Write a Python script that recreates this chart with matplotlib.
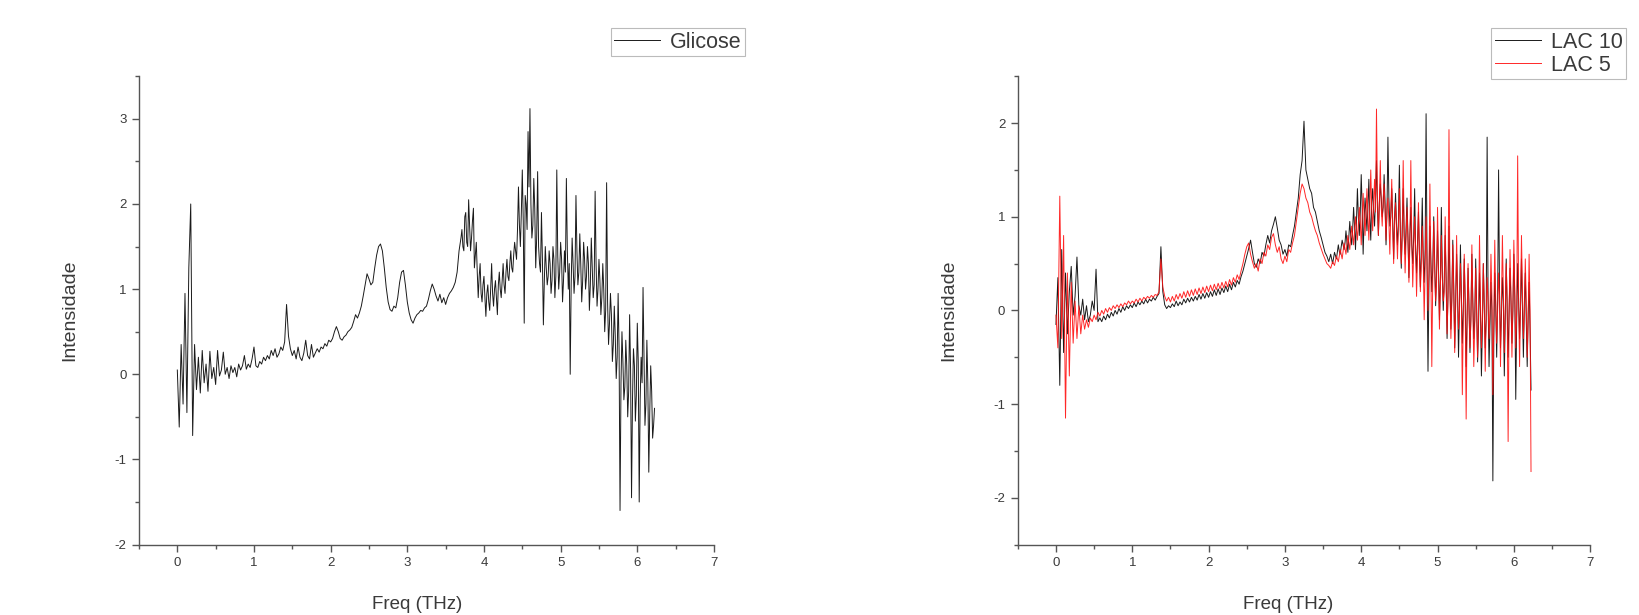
import numpy as np
import matplotlib
matplotlib.use('Agg')
import matplotlib.pyplot as plt
from matplotlib.ticker import MultipleLocator

plt.rcParams.update({'font.family': ['Liberation Sans', 'DejaVu Sans'],
                     'axes.unicode_minus': False})

# Frequency grid of the spectra (THz), 0.025 THz steps
freq = np.round(np.arange(250) * 0.025, 3)
# extra samples in the noisy high-frequency part (3.7125 ... 6.2125 THz)
freq_fine = np.round(3.7125 + np.arange(101) * 0.025, 4)

# Glicose spectrum (20 values per 0.5 THz)
glicose = [
    0.05, -0.62, 0.35, -0.35, 0.95, -0.45, 1.25, 2.0, -0.72, 0.35,
    -0.18, 0.2, -0.22, 0.28, -0.1, 0.12, -0.2, 0.27, -0.05, 0.08,
    -0.12, 0.28, -0.02, 0.05, 0.26, 0.0, 0.08, -0.05, 0.1, 0.02,
    0.08, -0.03, 0.12, 0.05, 0.1, 0.22, 0.06, 0.12, 0.08, 0.18,
    0.32, 0.1, 0.08, 0.15, 0.12, 0.2, 0.16, 0.22, 0.18, 0.28,
    0.22, 0.3, 0.2, 0.24, 0.32, 0.28, 0.38, 0.82, 0.45, 0.3,
    0.22, 0.28, 0.18, 0.32, 0.2, 0.16, 0.25, 0.4, 0.22, 0.18,
    0.35, 0.2, 0.25, 0.3, 0.26, 0.32, 0.3, 0.36, 0.33, 0.4,
    0.38, 0.42, 0.5, 0.56, 0.5, 0.42, 0.4, 0.44, 0.46, 0.5,
    0.52, 0.55, 0.62, 0.7, 0.66, 0.72, 0.8, 0.92, 1.05, 1.18,
    1.12, 1.05, 1.08, 1.25, 1.4, 1.5, 1.53, 1.45, 1.25, 1.02,
    0.85, 0.76, 0.74, 0.8, 0.78, 0.9, 1.08, 1.2, 1.22, 1.05,
    0.85, 0.72, 0.64, 0.6, 0.66, 0.7, 0.72, 0.75, 0.74, 0.78,
    0.8, 0.88, 0.98, 1.06, 1.0, 0.92, 0.86, 0.94, 0.84, 0.9,
    0.82, 0.9, 0.95, 0.98, 1.02, 1.08, 1.2, 1.45, 1.6, 1.5,
    1.85, 1.55, 2.05, 1.45, 1.8, 1.25, 1.55, 0.9, 1.3, 0.85,
    1.15, 0.68, 1.05, 0.75, 1.3, 0.8, 1.1, 0.7, 1.2, 0.9,
    1.3, 0.95, 1.35, 1.1, 1.45, 1.2, 1.55, 1.35, 2.2, 1.5,
    2.4, 0.6, 2.0, 2.85, 3.12, 1.6, 2.3, 1.25, 2.38, 1.3,
    1.9, 0.58, 1.5, 1.05, 1.45, 0.95, 1.5, 0.9, 2.4, 1.0,
    1.55, 0.85, 1.45, 2.3, 1.0, 0.0, 1.6, 0.95, 2.1, 1.05,
    1.65, 0.85, 1.55, 1.0, 1.5, 0.75, 1.6, 0.9, 2.15, 0.8,
    1.35, 0.7, 1.3, 0.5, 2.25, 0.35, 0.95, 0.15, 0.8, -0.05,
    0.95, -1.6, 0.5, -0.3, 0.4, -0.5, 0.7, -1.45, 0.3, -0.55,
    0.6, -1.5, 0.2, 1.02, -0.6, 0.4, -1.15, 0.1, -0.75, -0.4,
]
glicose_fine = [
    1.7, 1.45, 1.9, 1.5, 1.75, 1.6, 1.95, 1.4, 1.2, 1.15,
    0.95, 1.05, 0.9, 0.95, 0.85, 1.0, 0.95, 1.0, 0.9, 1.05,
    1.0, 1.1, 1.05, 1.2, 1.15, 1.3, 1.25, 1.4, 1.45, 1.7,
    1.75, 1.9, 1.8, 2.1, 1.7, 2.2, 2.0, 1.75, 1.95, 1.6,
    1.5, 1.2, 1.35, 1.1, 1.25, 1.15, 1.3, 1.1, 1.35, 1.15,
    1.4, 1.2, 1.35, 1.1, 1.2, 1.45, 1.3, 1.05, 1.3, 1.15,
    1.45, 1.2, 1.3, 1.1, 1.35, 1.15, 1.3, 1.05, 1.25, 1.05,
    1.3, 1.0, 1.1, 0.9, 1.0, 0.75, 0.85, 0.6, 0.7, 0.35,
    0.45, 0.2, 0.3, -0.1, 0.15, -0.15, 0.1, -0.2, 0.05, -0.3,
    0.1, -0.25, 0.15, -0.3, -0.1, 0.2, -0.35, -0.1, -0.45, -0.2,
    -0.6,
]

# LAC 10 spectrum (black, right panel)
lac10 = [
    -0.15, 0.35, -0.8, 0.65, -0.45, 0.4, -0.25, 0.2, 0.47, -0.05,
    0.15, 0.57, 0.05, -0.05, 0.12, -0.1, 0.05, -0.12, -0.05, 0.1,
    0.0, 0.44, -0.12, -0.08, -0.12, -0.06, -0.1, -0.04, -0.08, -0.02,
    -0.06, 0.0, -0.04, 0.02, -0.02, 0.04, 0.0, 0.05, 0.02, 0.06,
    0.03, 0.08, 0.04, 0.09, 0.06, 0.1, 0.07, 0.12, 0.08, 0.12,
    0.1, 0.14, 0.11, 0.15, 0.18, 0.68, 0.2, 0.06, 0.02, 0.05,
    0.03, 0.07, 0.04, 0.1, 0.05, 0.09, 0.06, 0.12, 0.08, 0.13,
    0.09, 0.14, 0.1, 0.15, 0.11, 0.17, 0.12, 0.18, 0.13, 0.19,
    0.14, 0.2, 0.15, 0.22, 0.16, 0.23, 0.17, 0.24, 0.19, 0.26,
    0.2, 0.28, 0.22, 0.3, 0.25, 0.32, 0.28, 0.36, 0.42, 0.5,
    0.58, 0.66, 0.75, 0.62, 0.5, 0.46, 0.55, 0.5, 0.62, 0.58,
    0.7, 0.8, 0.72, 0.85, 0.92, 1.0, 0.88, 0.75, 0.7, 0.6,
    0.65, 0.58, 0.7, 0.68, 0.8, 0.9, 1.05, 1.2, 1.45, 1.6,
    2.02, 1.5, 1.4, 1.3, 1.25, 1.1, 1.05, 0.95, 0.85, 0.78,
    0.7, 0.62, 0.58, 0.52, 0.6, 0.5, 0.62, 0.55, 0.7, 0.6,
    0.75, 0.65, 0.85, 0.62, 0.95, 0.7, 1.1, 0.65, 1.3, 0.8,
    1.45, 0.6, 1.2, 0.85, 1.4, 0.75, 1.3, 0.9, 1.6, 0.8,
    1.35, 1.0, 1.45, 0.7, 1.85, 0.9, 1.3, 0.55, 1.25, 0.7,
    1.55, 0.45, 1.3, 0.6, 1.2, 0.35, 1.1, 0.5, 1.3, 0.4,
    1.05, 0.25, 1.2, 0.3, 2.1, -0.65, 0.9, 0.2, 1.0, 0.05,
    0.85, -0.1, 1.1, 0.0, 0.8, -0.3, 0.9, -0.2, 0.75, -0.4,
    0.6, -0.5, 0.7, -0.35, 0.55, -0.6, 0.45, -0.45, 0.6, -0.3,
    0.55, -0.55, 0.4, -0.7, 0.5, -0.4, 1.85, -0.6, 0.3, -1.82,
    0.4, -0.5, 1.5, -0.4, 0.35, -0.7, 0.55, -0.5, 0.45, -0.35,
    0.6, -0.95, 0.5, -0.3, 0.55, -0.5, 0.4, -0.6, 0.3, -0.85,
]
lac10_fine = [
    0.63, 0.68, 0.7, 0.72, 0.74, 0.78, 0.8, 0.86, 0.9, 0.95,
    1.0, 1.05, 1.1, 0.95, 1.05, 1.1, 1.0, 1.15, 1.05, 1.2,
    1.1, 1.15, 1.2, 1.1, 1.15, 1.05, 1.2, 1.0, 0.95, 1.0,
    0.9, 0.95, 0.85, 0.9, 0.8, 0.88, 0.75, 0.8, 0.7, 0.78,
    0.65, 0.72, 0.6, 0.68, 0.55, 0.65, 0.5, 0.3, 0.55, 0.45,
    0.5, 0.4, 0.45, 0.35, 0.4, 0.3, 0.35, 0.2, 0.3, 0.15,
    0.25, 0.1, 0.2, 0.05, 0.15, 0.0, 0.1, -0.1, 0.05, -0.05,
    0.1, -0.1, 0.05, -0.15, 0.0, -0.2, 0.05, -0.1, 0.1, -0.15,
    0.0, -0.3, 0.05, 0.1, 0.2, -0.05, 0.1, -0.1, 0.05, 0.0,
    0.1, 0.0, 0.15, -0.1, 0.1, 0.05, 0.0, 0.05, -0.1, -0.05,
    -0.2,
]

# LAC 5 spectrum (red, right panel)
lac5 = [
    -0.05, -0.4, 1.22, -0.3, 0.8, -1.15, 0.4, -0.7, 0.3, -0.35,
    0.1, -0.3, 0.05, -0.25, -0.05, -0.2, -0.1, -0.18, -0.08, -0.12,
    -0.05, -0.1, -0.02, -0.06, 0.0, -0.04, 0.02, -0.02, 0.03, 0.0,
    0.05, 0.02, 0.06, 0.03, 0.07, 0.04, 0.08, 0.06, 0.1, 0.07,
    0.1, 0.08, 0.12, 0.09, 0.13, 0.1, 0.14, 0.12, 0.15, 0.13,
    0.16, 0.14, 0.17, 0.16, 0.2, 0.55, 0.25, 0.15, 0.1, 0.14,
    0.09, 0.15, 0.1, 0.17, 0.12, 0.18, 0.13, 0.2, 0.14, 0.21,
    0.15, 0.22, 0.16, 0.23, 0.17, 0.24, 0.18, 0.25, 0.19, 0.26,
    0.2, 0.27, 0.21, 0.28, 0.22, 0.29, 0.23, 0.3, 0.24, 0.31,
    0.25, 0.33, 0.27, 0.35, 0.3, 0.38, 0.33, 0.42, 0.5, 0.6,
    0.68, 0.72, 0.6, 0.52, 0.45, 0.5, 0.42, 0.55, 0.5, 0.62,
    0.58, 0.7, 0.65, 0.78, 0.82, 0.7, 0.62, 0.68, 0.55, 0.5,
    0.58, 0.52, 0.65, 0.62, 0.72, 0.8, 0.95, 1.1, 1.25, 1.35,
    1.3, 1.2, 1.15, 1.05, 1.0, 0.92, 0.85, 0.8, 0.72, 0.66,
    0.6, 0.55, 0.5, 0.48, 0.45, 0.52, 0.48, 0.58, 0.52, 0.65,
    0.55, 0.72, 0.6, 0.8, 0.65, 0.9, 0.7, 1.0, 0.75, 1.1,
    0.7, 1.25, 0.8, 1.3, 0.75, 1.5, 0.85, 1.4, 2.15, 0.8,
    1.6, 0.9, 1.35, 0.75, 1.2, 0.6, 1.4, 0.5, 1.15, 0.55,
    1.3, 0.5, 1.6, 0.4, 1.1, 0.3, 1.6, 0.25, 1.0, 0.15,
    1.15, 0.2, 0.9, -0.1, 1.0, 0.0, 1.35, -0.6, 0.95, 0.1,
    1.1, -0.2, 0.8, 0.1, 1.0, -0.25, 1.93, -0.3, 0.7, -0.45,
    0.8, -0.2, 0.5, -0.9, 0.6, -1.16, 0.5, -0.4, 0.7, -0.6,
    0.45, -0.5, 0.8, -0.4, 0.5, -0.65, 0.35, -0.3, 0.6, -0.9,
    0.75, -0.35, 0.4, -0.6, 0.8, -0.45, 0.5, -1.4, 0.65, -0.5,
    0.75, -0.4, 1.65, -0.6, 0.8, -0.3, 0.55, -0.5, 0.6, -1.72,
]
lac5_fine = [
    0.58, 0.6, 0.63, 0.66, 0.7, 0.72, 0.77, 0.8, 0.85, 0.88,
    0.92, 0.95, 0.98, 1.02, 1.05, 1.0, 1.1, 1.08, 1.15, 1.05,
    1.2, 1.15, 1.1, 1.2, 1.05, 1.1, 0.95, 1.05, 0.9, 0.95,
    0.85, 0.9, 0.85, 0.8, 0.88, 0.75, 0.78, 0.7, 0.75, 0.62,
    0.68, 0.58, 0.62, 0.5, 0.55, 0.45, 0.5, 0.4, 0.45, 0.35,
    0.42, 0.3, 0.4, 0.25, 0.35, 0.2, 0.3, 0.15, 0.25, 0.1,
    0.2, 0.05, 0.15, 0.0, 0.1, -0.05, 0.05, -0.1, 0.0, -0.1,
    0.05, -0.15, 0.0, -0.05, 0.1, -0.1, 0.05, -0.05, 0.1, 0.0,
    0.15, -0.1, 0.1, 0.0, 0.15, 0.05, 0.2, 0.0, 0.1, -0.05,
    0.15, 0.05, 0.2, 0.0, 0.15, 0.05, 0.2, -0.05, 0.1, -0.1,
    0.0,
]

text_color = '#3a3a3a'
axis_color = '#555555'


def merged(coarse, fine):
    x = np.concatenate([freq, freq_fine])
    y = np.concatenate([coarse, fine])
    order = np.argsort(x, kind='stable')
    return x[order], y[order]


def style_axes(ax, ylim):
    ax.set_xlim(-0.5, 7)
    ax.set_ylim(*ylim)
    for side in ('top', 'right'):
        ax.spines[side].set_visible(False)
    for side in ('left', 'bottom'):
        ax.spines[side].set_color(axis_color)
        ax.spines[side].set_linewidth(1.0)
    ax.xaxis.set_major_locator(MultipleLocator(1))
    ax.xaxis.set_minor_locator(MultipleLocator(0.5))
    ax.yaxis.set_major_locator(MultipleLocator(1))
    ax.yaxis.set_minor_locator(MultipleLocator(0.5))
    ax.tick_params(which='major', direction='out', length=5, width=1,
                   color=axis_color, labelcolor=text_color, labelsize=9.5, pad=4)
    ax.tick_params(which='minor', direction='out', length=3, width=1,
                   color=axis_color)
    ax.set_xlabel('Freq (THz)', fontsize=13.5, color=text_color)
    ax.set_ylabel('Intensidade', fontsize=14, color=text_color)


fig = plt.figure(figsize=(16.39, 6.15), dpi=100)
ax1 = fig.add_axes([0.0848, 0.1145, 0.3508, 0.7615])
ax2 = fig.add_axes([0.621, 0.1145, 0.3492, 0.7615])

x, y = merged(glicose, glicose_fine)
ax1.plot(x, y, color='#1a1a1a', linewidth=0.7, label='Glicose')
style_axes(ax1, (-2, 3.5))
ax1.xaxis.set_label_coords(0.483, -0.11)
ax1.yaxis.set_label_coords(-0.105, 0.5)

x, y = merged(lac10, lac10_fine)
ax2.plot(x, y, color='#1a1a1a', linewidth=0.7, label='LAC 10')
x, y = merged(lac5, lac5_fine)
ax2.plot(x, y, color='#ff1010', linewidth=0.7, alpha=0.9, label='LAC 5')
style_axes(ax2, (-2.5, 2.5))
ax2.xaxis.set_label_coords(0.4725, -0.11)
ax2.yaxis.set_label_coords(-0.105, 0.5)

legend_style = dict(loc='upper right', fontsize=15.5, frameon=True, fancybox=False,
                    borderpad=0.15, handlelength=2.15, handletextpad=0.45,
                    labelspacing=0.1, borderaxespad=0.0, edgecolor='#aaaaaa')
leg1 = ax1.legend(bbox_to_anchor=(0.4545, 0.954), bbox_transform=fig.transFigure,
                  **legend_style)
leg2 = ax2.legend(bbox_to_anchor=(0.9919, 0.954), bbox_transform=fig.transFigure,
                  **legend_style)
for leg in (leg1, leg2):
    leg.get_frame().set_linewidth(0.8)
    for t in leg.get_texts():
        t.set_color(text_color)

fig.savefig('out.png', dpi=100)
